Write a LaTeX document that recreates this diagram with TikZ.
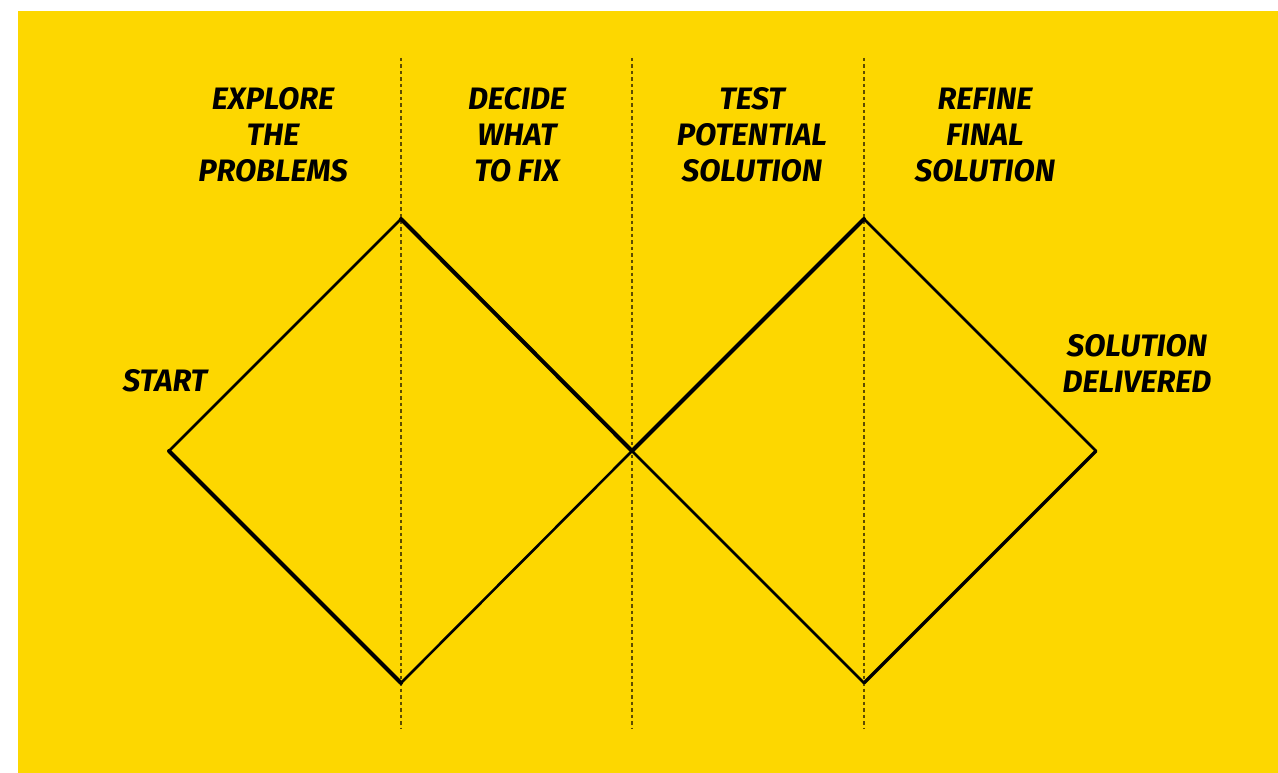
\documentclass[tikz,border=0pt]{standalone}
\usepackage{fontspec}
\setmainfont{Fira Sans}
\definecolor{bgyellow}{HTML}{FDD700}
\definecolor{dashcol}{HTML}{5E4C00}
\begin{document}
\begin{tikzpicture}[x=1pt,y=-1pt,
  lbl/.style={font=\fontsize{31}{36}\selectfont\bfseries\itshape, align=center, text=black, inner sep=0pt},
  guide/.style={draw=dashcol, line width=1.4pt, dash pattern=on 3.5pt off 3pt},
  thinedge/.style={line width=2.6pt, line cap=round, line join=round},
  thickedge/.style={line width=4pt, line cap=round, line join=round}]
\useasboundingbox (0,0) rectangle (1278,773);
\fill[white] (0,0) rectangle (1278,773);
\fill[bgyellow] (18,11) rectangle (1278,773);
% guides
\coordinate (g1t) at (401,58); \coordinate (g1b) at (401,728);
\coordinate (g2t) at (632,58); \coordinate (g2b) at (632,728);
\coordinate (g3t) at (864,58); \coordinate (g3b) at (864,728);
\draw[guide] (g1t) -- (g1b);
\draw[guide] (g2t) -- (g2b);
\draw[guide] (g3t) -- (g3b);
% diamonds
\coordinate (start) at (169,451);
\coordinate (top1) at (401,219);
\coordinate (bot1) at (401,683);
\coordinate (mid) at (632,451);
\coordinate (top2) at (864,219);
\coordinate (bot2) at (864,683);
\coordinate (end) at (1096,451);
\draw[thinedge] (start) -- (top1);
\draw[thickedge] (top1) -- (mid);
\draw[thickedge] (start) -- (bot1);
\draw[thinedge] (bot1) -- (mid);
\draw[thickedge] (mid) -- (top2);
\draw[thinedge] (top2) -- (end);
\draw[line width=3.3pt, line cap=round, line join=round] (end) -- (bot2);
\draw[line width=2.8pt, line cap=round, line join=round] (mid) -- (bot2);
% labels
\node[lbl] (l1) at (273,135) {EXPLORE\\THE\\PROBLEMS};
\node[lbl] (l2) at (517,135) {DECIDE\\WHAT\\TO FIX};
\node[lbl] (l3) at (752,135) {TEST\\POTENTIAL\\SOLUTION};
\node[lbl] (l4) at (985,135) {REFINE\\FINAL\\SOLUTION};
\node[lbl] (l5) at (165,381) {START};
\node[lbl] (l6) at (1137,363) {SOLUTION\\DELIVERED};
\end{tikzpicture}
\end{document}
